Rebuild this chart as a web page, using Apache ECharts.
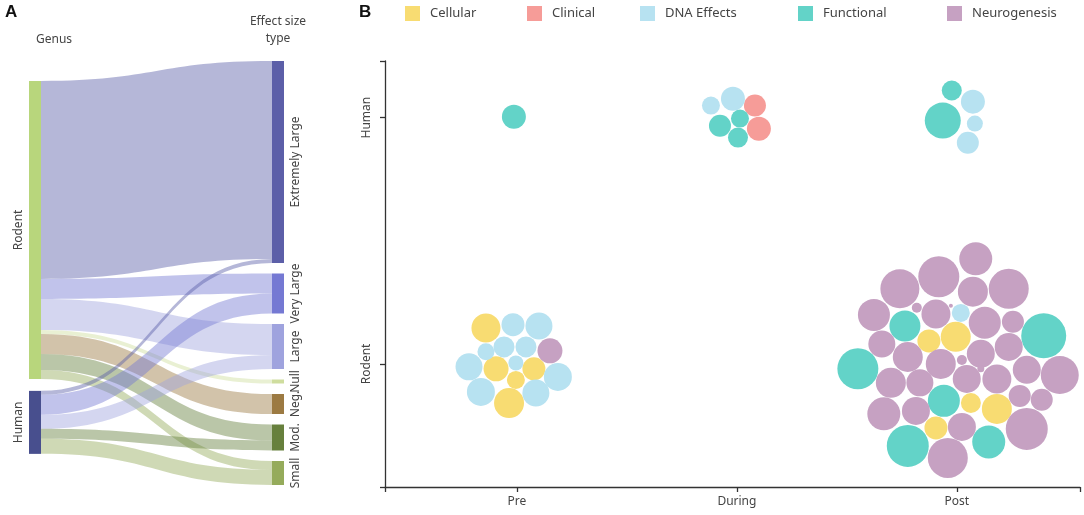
<!DOCTYPE html>
<html>
<head>
<meta charset="utf-8">
<script src="https://cdn.jsdelivr.net/npm/echarts@6/dist/echarts.min.js"></script>
<style>
  html, body { margin: 0; padding: 0; background: #fff; }
  #main { width: 1084px; height: 515px; }
</style>
</head>
<body>
<div id="main"></div>
<script>
// Panel A: genus -> effect size type
var genus = ['Rodent', 'Human']
var effectTypes = ['Extremely Large', 'Very Large', 'Large', 'Null', 'Neg.', 'Mod.', 'Small']
var rodentFlows = [198, 20, 31, 4, 20, 16, 9]
var humanFlows = [4, 20, 14, 0, 0, 10, 15]

// Panel B: outcome bubbles, [period, species, size]
var periods = ['Pre', 'During', 'Post']
var species = ['Rodent', 'Human']
var outcomes = ['Cellular', 'Clinical', 'DNA Effects', 'Functional', 'Neurogenesis']

var cellular = [
  [-0.141, 0.146, 29], [-0.095, -0.02, 25], [0.077, -0.02, 23], [-0.005, -0.065, 18], [-0.036, -0.159, 30],
  [1.873, 0.093, 23], [1.995, 0.11, 30], [2.064, -0.159, 20], [2.182, -0.183, 30], [1.905, -0.26, 23]
]
var clinical = [
  [1.082, 1.049, 22], [1.1, 0.955, 24]
]
var dnaEffects = [
  [0.882, 1.049, 18], [0.982, 1.077, 24],
  [2.073, 1.065, 24], [2.082, 0.976, 16], [2.05, 0.898, 22],
  [-0.018, 0.159, 23], [0.1, 0.154, 27], [-0.141, 0.049, 17], [-0.059, 0.069, 21], [0.041, 0.069, 21],
  [-0.218, -0.012, 27], [-0.005, 0.004, 15], [0.186, -0.053, 28], [-0.164, -0.114, 28], [0.086, -0.118, 27],
  [2.018, 0.207, 18]
]
var functional = [
  [-0.014, 1.004, 24],
  [0.923, 0.967, 22], [1.014, 0.996, 18], [1.005, 0.919, 20],
  [1.977, 1.11, 20], [1.936, 0.988, 36],
  [1.764, 0.154, 31], [2.395, 0.114, 45], [1.55, -0.02, 41], [1.941, -0.15, 32], [1.777, -0.333, 42], [2.145, -0.317, 33]
]
var neurogenesis = [
  [0.15, 0.053, 25],
  [2.086, 0.427, 33], [1.918, 0.354, 41], [1.741, 0.305, 39], [2.236, 0.305, 40], [2.073, 0.293, 30],
  [1.623, 0.199, 32], [1.818, 0.228, 10], [1.905, 0.203, 29], [1.973, 0.236, 4], [2.127, 0.167, 32],
  [2.255, 0.171, 22], [1.659, 0.081, 27], [1.777, 0.028, 30], [1.927, 0.0, 30], [2.023, 0.016, 10],
  [2.109, 0.041, 28], [2.236, 0.069, 28], [1.7, -0.077, 30], [1.832, -0.077, 27], [2.045, -0.061, 28],
  [2.182, -0.061, 29], [2.318, -0.024, 28], [2.468, -0.045, 38], [2.109, -0.02, 7], [1.668, -0.203, 33],
  [1.814, -0.191, 28], [2.286, -0.13, 22], [2.386, -0.146, 22], [2.023, -0.256, 28], [2.318, -0.264, 42],
  [1.959, -0.382, 40]
]

var genusColors = ['#b8d67c', '#484f8e']
var effectColors = ['#5c5fa8', '#7579d3', '#9fa3de', '#cfdd9e', '#9c7a42', '#67803d', '#95ab5b']
var outcomeColors = ['#f8dc72', '#f69c98', '#b7e2f1', '#63d3c8', '#c6a1c2']
var genusTop = [0.047, 0.778] // left column offsets in the sankey box
var legendLeft = [405, 527, 640, 798, 947]
var bubbleScale = 1
var font = 'Noto Sans'
var textColor = '#444'

var chart = echarts.init(document.getElementById('main'))

var nodes = []
genus.forEach(function (g, i) {
  nodes.push({
    name: g,
    localY: genusTop[i],
    itemStyle: { color: genusColors[i] },
    label: { position: 'left', distance: 10 }
  })
})
effectTypes.forEach(function (e, i) {
  nodes.push({
    name: e,
    itemStyle: { color: effectColors[i] },
    label: { position: 'right', distance: 12 }
  })
})

var links = []
effectTypes.forEach(function (e, i) {
  if (rodentFlows[i] > 0) links.push({ source: 'Rodent', target: e, value: rodentFlows[i] })
})
effectTypes.forEach(function (e, i) {
  if (humanFlows[i] > 0) links.push({ source: 'Human', target: e, value: humanFlows[i] })
})

var outcomeData = [cellular, clinical, dnaEffects, functional, neurogenesis]

var series = [{
  type: 'sankey',
  left: 29,
  top: 61,
  right: 800,
  bottom: 30,
  nodeWidth: 12,
  nodeGap: 10.5,
  layoutIterations: 0,
  draggable: false,
  emphasis: { disabled: true },
  data: nodes,
  links: links,
  label: {
    rotate: 90,
    align: 'center',
    verticalAlign: 'middle',
    fontFamily: font,
    fontSize: 12,
    color: textColor
  },
  lineStyle: { color: 'target', opacity: 0.45, curveness: 0.5 }
}]

outcomes.forEach(function (name, i) {
  series.push({
    type: 'scatter',
    name: name,
    data: outcomeData[i],
    symbol: 'circle',
    symbolSize: function (v) { return v[2] * bubbleScale },
    itemStyle: { color: outcomeColors[i], opacity: 1 },
    emphasis: { disabled: true }
  })
})

chart.setOption({
  animation: false,
  textStyle: { fontFamily: font },
  color: outcomeColors,
  legend: outcomes.map(function (name, i) {
    return {
      data: [name],
      left: legendLeft[i],
      top: 6,
      padding: 0,
      icon: 'rect',
      itemWidth: 15,
      itemHeight: 15,
      selectedMode: false,
      textStyle: { fontFamily: font, fontSize: 13, color: textColor, padding: [0, 0, 0, 5] }
    }
  }),
  graphic: [
    { type: 'text', left: 5, top: 4, style: { text: 'A', font: 'bold 17px "Liberation Sans"', fill: '#111' } },
    { type: 'text', left: 359, top: 4, style: { text: 'B', font: 'bold 17px "Liberation Sans"', fill: '#111' } },
    { type: 'text', left: 36, top: 34, style: { text: 'Genus', font: '12px "Noto Sans"', fill: textColor } },
    { type: 'text', x: 278, y: 13, style: { text: 'Effect size\ntype', font: '12px "Noto Sans"', fill: textColor, align: 'center', lineHeight: 17 } }
  ],
  grid: { left: 385, right: 4, top: 61, bottom: 28 },
  xAxis: {
    type: 'value',
    min: -0.6,
    max: 2.56,
    splitLine: { show: false },
    axisLine: { show: true, onZero: false, lineStyle: { color: '#333', width: 1.3 } },
    axisTick: { show: true, length: 5, customValues: [-0.6, 0, 1, 2, 2.56], lineStyle: { color: '#333', width: 1.3 } },
    axisLabel: {
      customValues: [0, 1, 2],
      formatter: function (v) { return periods[Math.round(v)] },
      fontFamily: font, fontSize: 12, color: textColor, margin: 9
    }
  },
  yAxis: {
    type: 'value',
    min: -0.5,
    max: 1.23,
    splitLine: { show: false },
    axisLine: { show: true, onZero: false, lineStyle: { color: '#333', width: 1.3 } },
    axisTick: { show: true, length: 5, customValues: [-0.5, 0, 1, 1.23], lineStyle: { color: '#333', width: 1.3 } },
    axisLabel: {
      customValues: [0, 1],
      rotate: 90,
      formatter: function (v) { return species[Math.round(v)] },
      fontFamily: font, fontSize: 12, color: textColor, margin: 12
    }
  },
  series: series
})
</script>
</body>
</html>
